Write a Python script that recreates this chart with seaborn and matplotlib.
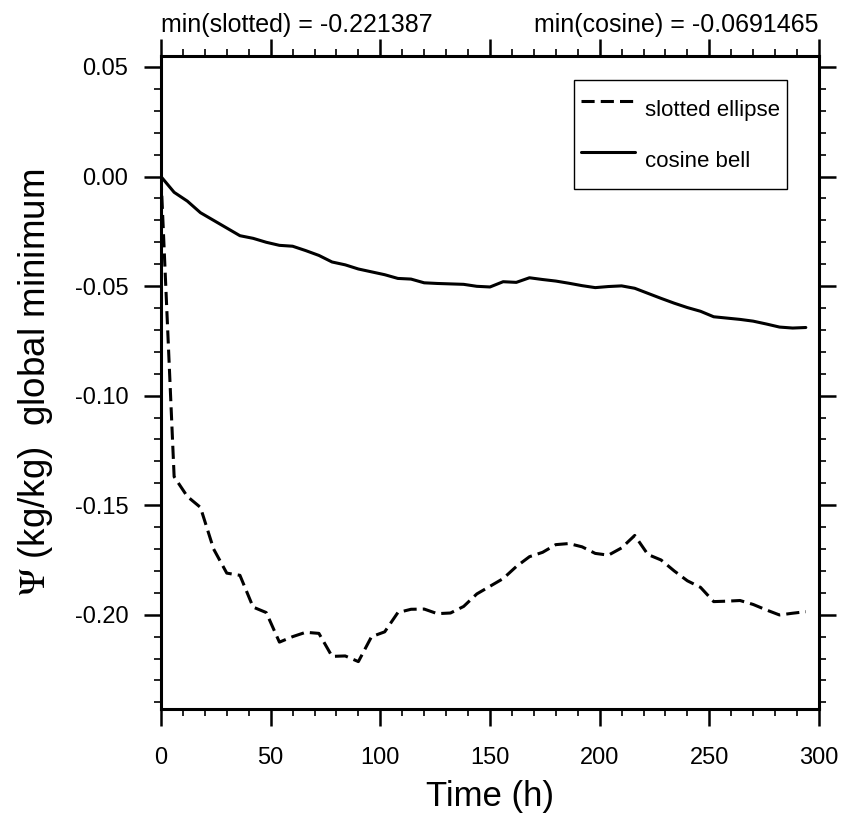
import matplotlib
matplotlib.use("Agg")
import matplotlib.pyplot as plt
from matplotlib.ticker import MultipleLocator
import numpy as np
import pandas as pd
import seaborn as sns

# ---- data ----
time_h = [0, 6, 12, 18, 24, 30, 36, 42, 48, 54,
          60, 66, 72, 78, 84, 90, 96, 102, 108, 114,
          120, 126, 132, 138, 144, 150, 156, 162, 168, 174,
          180, 186, 192, 198, 204, 210, 216, 222, 228, 234,
          240, 246, 252, 258, 264, 270, 276, 282, 288, 294]

slotted = [0.0, -0.137, -0.146, -0.151, -0.170, -0.181, -0.182, -0.1965, -0.199, -0.2125,
           -0.210, -0.208, -0.2085, -0.219, -0.2188, -0.221387, -0.210, -0.2078, -0.199, -0.1975,
           -0.1974, -0.1995, -0.1992, -0.1962, -0.1905, -0.187, -0.1835, -0.178, -0.1735, -0.1715,
           -0.168, -0.1675, -0.169, -0.172, -0.1728, -0.1695, -0.1638, -0.1725, -0.175, -0.180,
           -0.1845, -0.1875, -0.194, -0.1938, -0.1935, -0.1953, -0.1978, -0.2001, -0.1993, -0.1986]

cosine = [0.0, -0.0072, -0.0112, -0.0165, -0.0200, -0.0235, -0.0270, -0.0282, -0.0300, -0.0314,
          -0.0318, -0.0338, -0.0360, -0.0390, -0.0403, -0.0422, -0.0435, -0.0448, -0.0465, -0.0468,
          -0.0485, -0.0488, -0.0490, -0.0492, -0.0501, -0.0504, -0.0480, -0.0483, -0.0462, -0.0470,
          -0.0477, -0.0487, -0.0498, -0.0507, -0.0502, -0.0499, -0.0510, -0.0533, -0.0556, -0.0578,
          -0.0598, -0.0615, -0.0640, -0.0646, -0.0652, -0.0660, -0.0673, -0.0687, -0.0691465, -0.0689]

series_names = ["slotted ellipse", "cosine bell"]
min_slotted_label = "min(slotted) = -0.221387"
min_cosine_label = "min(cosine) = -0.0691465"
x_ticks = [0, 50, 100, 150, 200, 250, 300]
y_ticks = [-0.20, -0.15, -0.10, -0.05, 0.00, 0.05]

df = pd.DataFrame({
    "time": time_h * 2,
    "value": slotted + cosine,
    "series": [series_names[0]] * len(time_h) + [series_names[1]] * len(time_h),
})

# ---- style ----
sns.set_style("white")
plt.rcParams["font.family"] = ["Liberation Sans", "DejaVu Sans"]
plt.rcParams["mathtext.fontset"] = "stix"
plt.rcParams["text.color"] = "black"
plt.rcParams["axes.labelcolor"] = "black"
plt.rcParams["xtick.color"] = "black"
plt.rcParams["ytick.color"] = "black"

fig = plt.figure(figsize=(8.45, 8.24), dpi=100)
ax = fig.add_axes([0.1905, 0.1396, 0.9692 - 0.1905, 0.932 - 0.1396])

sns.lineplot(data=df, x="time", y="value", style="series",
             style_order=series_names,
             dashes={series_names[0]: (4.3, 2.0), series_names[1]: ""},
             color="black", linewidth=2.2, ax=ax, legend=True)

ax.set_xlim(0, 300)
ax.set_ylim(-0.243, 0.055)
ax.set_xticks(x_ticks)
ax.set_yticks(y_ticks)
ax.set_xticklabels([str(v) for v in x_ticks])
ax.set_yticklabels([f"{v:.2f}" for v in y_ticks])
ax.xaxis.set_minor_locator(MultipleLocator(10))
ax.yaxis.set_minor_locator(MultipleLocator(0.01))

for s in ax.spines.values():
    s.set_visible(True)
    s.set_linewidth(2.2)
    s.set_color("black")

ax.tick_params(which="both", direction="out", top=True, right=True,
               bottom=True, left=True, colors="black", labelcolor="black")
ax.tick_params(which="major", length=12.5, width=1.8, labelsize=17)
ax.tick_params(which="minor", length=5, width=1.2)
ax.tick_params(axis="x", which="major", pad=15)
ax.tick_params(axis="y", which="major", pad=11)

ax.set_xlabel("Time (h)", fontsize=25, labelpad=8, color="black")
ax.set_ylabel(r"$\Psi$ (kg/kg)  global minimum", fontsize=26.5, labelpad=14,
              color="black")

ax.annotate(min_slotted_label, xy=(0, 1), xycoords="axes fraction",
            xytext=(0, 17), textcoords="offset points",
            ha="left", va="baseline", fontsize=18, color="black")
ax.annotate(min_cosine_label, xy=(1, 1), xycoords="axes fraction",
            xytext=(0, 17), textcoords="offset points",
            ha="right", va="baseline", fontsize=18, color="black")

handles, labels = ax.get_legend_handles_labels()
pairs = [(h, l) for h, l in zip(handles, labels) if l in series_names]
leg = ax.legend([p[0] for p in pairs], [p[1] for p in pairs],
                loc="upper left", bbox_to_anchor=(0.628, 0.963),
                borderaxespad=0, fontsize=16, frameon=True, fancybox=False,
                framealpha=1, edgecolor="black", borderpad=0.3,
                handlelength=2.45, handleheight=2.7, labelspacing=0.3,
                handletextpad=0.45)
leg.get_frame().set_linewidth(1.0)
for t in leg.get_texts():
    t.set_color("black")
for line in leg.get_lines():
    line.set_linewidth(2.2)

fig.savefig("out.png", dpi=100)
